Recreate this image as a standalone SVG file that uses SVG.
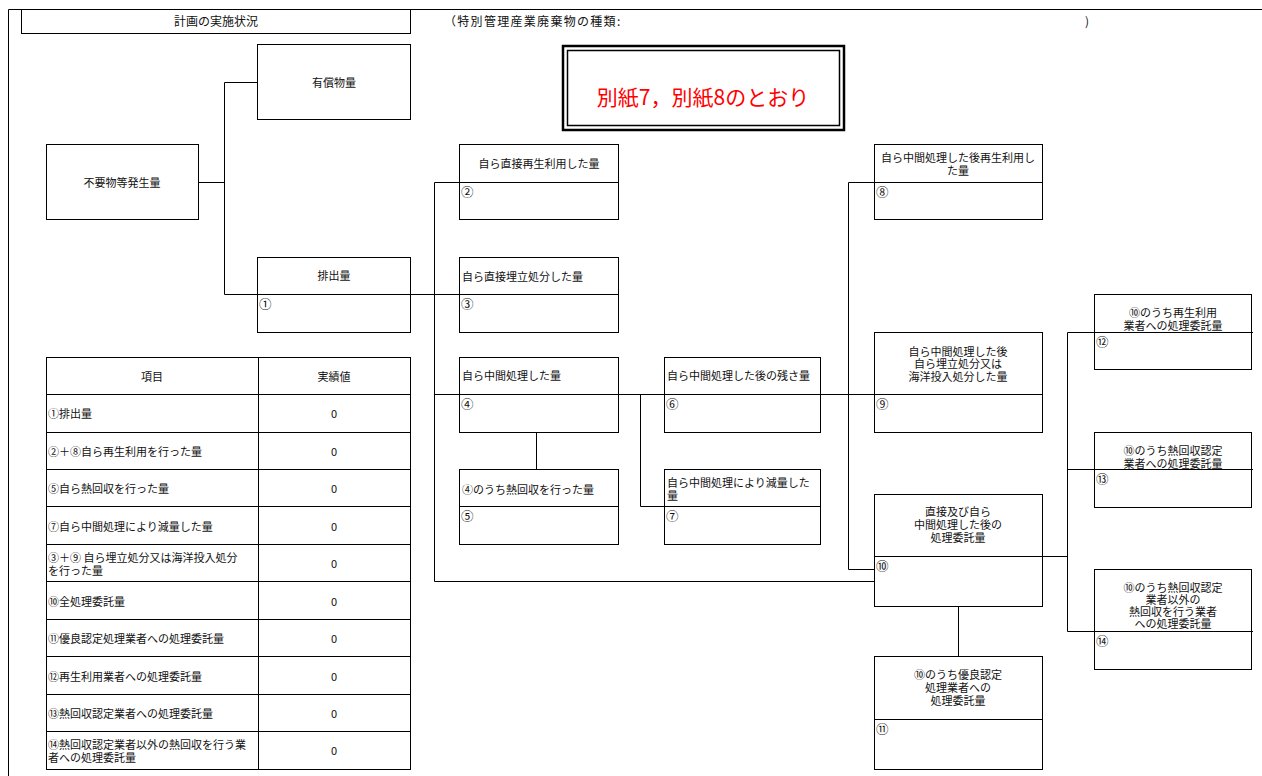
<svg xmlns="http://www.w3.org/2000/svg" width="1262" height="776" viewBox="0 0 1262 776">
<style>
text{font-family:"Noto Sans CJK JP","Noto Sans CJK SC",sans-serif;font-size:11px;fill:#111;dominant-baseline:central}
.c{text-anchor:middle}
.n{font-size:12.5px}
rect.b{fill:#fff;stroke:#000;stroke-width:1}
line,path{stroke:#000;stroke-width:1;fill:none}
</style>
<rect width="1262" height="776" fill="#fff"/>
<g id="frame">
<path d="M8.5 9.5H1262M8.5 9.5V776"/>
<rect class="b" x="21.5" y="9.5" width="389" height="24"/>
<text class="c" x="216" y="20.5" style="font-size:12px">計画の実施状況</text>
<text x="444" y="20.5" style="font-size:12px;letter-spacing:1.3px">（特別管理産業廃棄物の種類:</text>
<text x="1085" y="20.5" style="font-size:12px">)</text>
</g>
<g id="note">
<rect x="563" y="46" width="281" height="84" fill="#fff" stroke="#000" stroke-width="2.5"/>
<rect x="567.5" y="50.5" width="272" height="75" fill="none" stroke="#000" stroke-width="1.5"/>
<text class="c" x="703" y="96" style="font-size:21px;fill:#f00">別紙7，別紙8のとおり</text>
</g>
<g id="connectors">
<path d="M198.5 182.5H224.5M224.5 82.5V294.5M224.5 82.5H257.5M224.5 294.5H459.5"/>
<path d="M434.5 182.5V581.5M434.5 182.5H459.5M434.5 394.5H459.5M618.5 394.5H664.5M640.5 394.5V506.5H664.5M536.5 432.5V469.5"/>
<path d="M820.5 394.5H874.5M848.5 182.5V569.5H874.5M848.5 182.5H874.5M434.5 581.5H874.5"/>
<path d="M1042.5 556.5H1067.5M1067.5 332.5V631.5M1067.5 332.5H1094.5M1067.5 469.5H1094.5M1067.5 631.5H1094.5M958.5 606.5V656.5"/>
</g>
<g id="n-yusho">
<rect class="b" x="257.5" y="44.5" width="153" height="75"/>
<text class="c" x="334" y="82">有償物量</text>
</g>
<g id="n-fuyo">
<rect class="b" x="46.5" y="144.5" width="152" height="75"/>
<text class="c" x="122" y="182">不要物等発生量</text>
</g>
<g id="n1">
<rect class="b" x="257.5" y="257.5" width="153" height="75"/>
<line x1="257.5" y1="294.5" x2="410.5" y2="294.5"/>
<text class="c" x="334" y="275">排出量</text>
<text class="n" x="259" y="303">①</text>
</g>
<g id="n2">
<rect class="b" x="459.5" y="144.5" width="159" height="75"/>
<line x1="459.5" y1="182.5" x2="618.5" y2="182.5"/>
<text class="c" x="539" y="163">自ら直接再生利用した量</text>
<text class="n" x="461" y="191">②</text>
</g>
<g id="n3">
<rect class="b" x="459.5" y="257.5" width="159" height="75"/>
<line x1="459.5" y1="294.5" x2="618.5" y2="294.5"/>
<text x="462" y="276">自ら直接埋立処分した量</text>
<text class="n" x="461" y="303">③</text>
</g>
<g id="n4">
<rect class="b" x="459.5" y="357.5" width="159" height="75"/>
<line x1="459.5" y1="394.5" x2="618.5" y2="394.5"/>
<text x="462" y="375">自ら中間処理した量</text>
<text class="n" x="461" y="403">④</text>
</g>
<g id="n5">
<rect class="b" x="459.5" y="469.5" width="159" height="75"/>
<line x1="459.5" y1="506.5" x2="618.5" y2="506.5"/>
<text x="462" y="489">④のうち熱回収を行った量</text>
<text class="n" x="461" y="515">⑤</text>
</g>
<g id="n6">
<rect class="b" x="664.5" y="357.5" width="156" height="75"/>
<line x1="664.5" y1="394.5" x2="820.5" y2="394.5"/>
<text x="667" y="375">自ら中間処理した後の残さ量</text>
<text class="n" x="666" y="403">⑥</text>
</g>
<g id="n7">
<rect class="b" x="664.5" y="469.5" width="156" height="75"/>
<line x1="664.5" y1="506.5" x2="820.5" y2="506.5"/>
<text x="667" y="482">自ら中間処理により減量した<tspan x="667" dy="13">量</tspan></text>
<text class="n" x="666" y="515">⑦</text>
</g>
<g id="n8">
<rect class="b" x="874.5" y="144.5" width="168" height="75"/>
<line x1="874.5" y1="182.5" x2="1042.5" y2="182.5"/>
<text class="c" x="958" y="157">自ら中間処理した後再生利用し<tspan x="958" dy="12.5">た量</tspan></text>
<text class="n" x="876" y="191">⑧</text>
</g>
<g id="n9">
<rect class="b" x="874.5" y="332.5" width="168" height="100"/>
<line x1="874.5" y1="394.5" x2="1042.5" y2="394.5"/>
<text class="c" x="958" y="351">自ら中間処理した後<tspan x="958" dy="12.3">自ら埋立処分又は</tspan><tspan x="958" dy="12.3">海洋投入処分した量</tspan></text>
<text class="n" x="876" y="403">⑨</text>
</g>
<g id="n10">
<rect class="b" x="874.5" y="494.5" width="168" height="112"/>
<line x1="874.5" y1="556.5" x2="1042.5" y2="556.5"/>
<text class="c" x="958" y="511">直接及び自ら<tspan x="958" dy="13">中間処理した後の</tspan><tspan x="958" dy="13">処理委託量</tspan></text>
<text class="n" x="876" y="565">⑩</text>
</g>
<g id="n11">
<rect class="b" x="874.5" y="656.5" width="168" height="113"/>
<line x1="874.5" y1="719.5" x2="1042.5" y2="719.5"/>
<text class="c" x="958" y="674">⑩のうち優良認定<tspan x="958" dy="13">処理業者への</tspan><tspan x="958" dy="13">処理委託量</tspan></text>
<text class="n" x="876" y="728">⑪</text>
</g>
<g id="n12">
<rect class="b" x="1094.5" y="294.5" width="157" height="75"/>
<line x1="1094.5" y1="332.5" x2="1253" y2="332.5"/>
<text class="c" x="1173" y="312">⑩のうち再生利用<tspan x="1173" dy="13">業者への処理委託量</tspan></text>
<text class="n" x="1096" y="341">⑫</text>
</g>
<g id="n13">
<rect class="b" x="1094.5" y="432.5" width="157" height="75"/>
<line x1="1094.5" y1="469.5" x2="1253" y2="469.5"/>
<text class="c" x="1173" y="450">⑩のうち熱回収認定<tspan x="1173" dy="13">業者への処理委託量</tspan></text>
<text class="n" x="1096" y="478">⑬</text>
</g>
<g id="n14">
<rect class="b" x="1094.5" y="569.5" width="157" height="100"/>
<line x1="1094.5" y1="631.5" x2="1253" y2="631.5"/>
<text class="c" x="1173" y="587">⑩のうち熱回収認定<tspan x="1173" dy="12">業者以外の</tspan><tspan x="1173" dy="12">熱回収を行う業者</tspan><tspan x="1173" dy="12">への処理委託量</tspan></text>
<text class="n" x="1096" y="640">⑭</text>
</g>
<g id="table">
<rect class="b" x="46.5" y="357.5" width="364" height="412"/>
<path d="M258.5 357.5V769.5M46.5 394.5H410.5M46.5 432.5H410.5M46.5 469.5H410.5M46.5 506.5H410.5M46.5 544.5H410.5M46.5 581.5H410.5M46.5 619.5H410.5M46.5 656.5H410.5M46.5 694.5H410.5M46.5 731.5H410.5"/>
<text class="c" x="152" y="376">項目</text>
<text class="c" x="334" y="376">実績値</text>
<text x="48" y="413">①排出量</text>
<text x="48" y="450.5">②＋⑧自ら再生利用を行った量</text>
<text x="48" y="488">⑤自ら熱回収を行った量</text>
<text x="48" y="525.5">⑦自ら中間処理により減量した量</text>
<text x="48" y="557">③＋⑨ 自ら埋立処分又は海洋投入処分<tspan x="48" dy="13">を行った量</tspan></text>
<text x="48" y="600.5">⑩全処理委託量</text>
<text x="48" y="638">⑪優良認定処理業者への処理委託量</text>
<text x="48" y="675.5">⑫再生利用業者への処理委託量</text>
<text x="48" y="713">⑬熱回収認定業者への処理委託量</text>
<text x="48" y="744">⑭熱回収認定業者以外の熱回収を行う業<tspan x="48" dy="13">者への処理委託量</tspan></text>
<text class="c" x="334" y="413">0</text>
<text class="c" x="334" y="450.5">0</text>
<text class="c" x="334" y="488">0</text>
<text class="c" x="334" y="525.5">0</text>
<text class="c" x="334" y="563">0</text>
<text class="c" x="334" y="600.5">0</text>
<text class="c" x="334" y="638">0</text>
<text class="c" x="334" y="675.5">0</text>
<text class="c" x="334" y="713">0</text>
<text class="c" x="334" y="750">0</text>
</g>
</svg>
